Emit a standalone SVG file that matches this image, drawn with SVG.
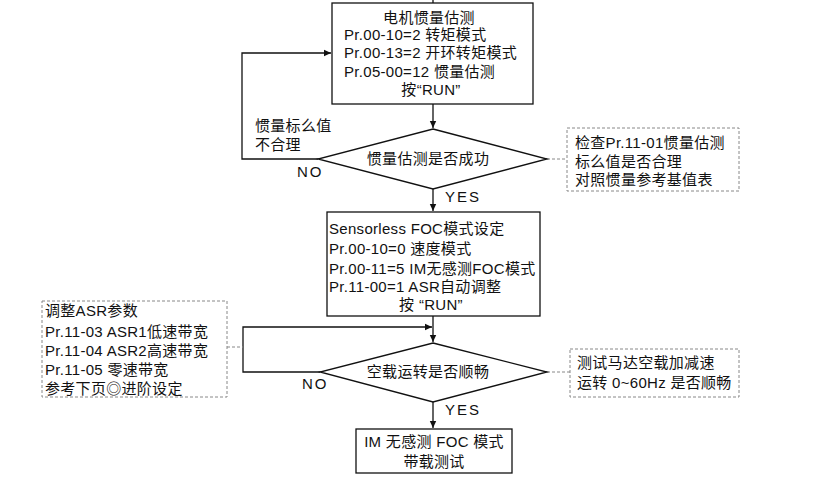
<svg xmlns="http://www.w3.org/2000/svg" width="820" height="488" viewBox="0 0 820 488">
<defs>
<marker id="arr" markerWidth="8" markerHeight="8" refX="7" refY="4" orient="auto" markerUnits="userSpaceOnUse">
<path d="M0,0.8 L7,4 L0,7.2 Z" fill="#111"/>
</marker>
<style>
text{font-family:"Liberation Sans","Noto Sans CJK SC",sans-serif;font-size:15px;fill:#111;letter-spacing:0.3px}
.c{text-anchor:middle}
.box{fill:#fff;stroke:#111;stroke-width:1.3}
.note{fill:#fff;stroke:#888;stroke-width:1;stroke-dasharray:3,2}
.ln{fill:none;stroke:#111;stroke-width:1.3}
.dl{fill:none;stroke:#888;stroke-width:1;stroke-dasharray:3,2}
.lb{letter-spacing:2px}
</style>
</defs>
<rect width="820" height="488" fill="#fff"/>
<g id="connectors">
<line class="ln" x1="433" y1="0" x2="433" y2="3"/>
<line class="ln" x1="433" y1="104" x2="433" y2="128" marker-end="url(#arr)"/>
<polyline class="ln" points="318,159 242,159 242,53 331,53" marker-end="url(#arr)"/>
<line class="ln" x1="433" y1="189" x2="433" y2="211" marker-end="url(#arr)"/>
<line class="dl" x1="547" y1="159" x2="567" y2="159"/>
<line class="ln" x1="433" y1="316" x2="433" y2="342" marker-end="url(#arr)"/>
<polyline class="ln" points="320,372 243,372 243,327 432,327" marker-end="url(#arr)"/>
<line class="dl" x1="227" y1="347" x2="243" y2="347"/>
<line class="dl" x1="547" y1="372" x2="570" y2="372"/>
<line class="ln" x1="433" y1="402" x2="433" y2="428" marker-end="url(#arr)"/>
</g>
<g id="n1">
<rect class="box" x="332" y="3" width="201" height="101"/>
<text class="c" x="429" y="23">电机惯量估测</text>
<text x="344" y="40">Pr.00-10=2 转矩模式</text>
<text x="344" y="58">Pr.00-13=2 开环转矩模式</text>
<text x="344" y="77">Pr.05-00=12 惯量估测</text>
<text class="c" x="431" y="95">按“RUN”</text>
</g>
<g id="d1">
<polygon class="box" points="433,129 547,159 433,189 318,159"/>
<text class="c" x="428" y="164">惯量估测是否成功</text>
</g>
<g id="lbl1">
<text x="255" y="131">惯量标么值</text>
<text x="255" y="150">不合理</text>
<text class="lb" x="297" y="177">NO</text>
<text class="lb" x="445" y="202">YES</text>
</g>
<g id="note1">
<rect class="note" x="567" y="128" width="172" height="63"/>
<text x="575" y="148">检查Pr.11-01惯量估测</text>
<text x="575" y="167">标么值是否合理</text>
<text x="575" y="185">对照惯量参考基值表</text>
</g>
<g id="n2">
<rect class="box" x="327" y="212" width="213" height="104"/>
<text x="329" y="234">Sensorless FOC模式设定</text>
<text x="329" y="254">Pr.00-10=0 速度模式</text>
<text x="329" y="274">Pr.00-11=5 IM无感测FOC模式</text>
<text x="329" y="292">Pr.11-00=1 ASR自动调整</text>
<text class="c" x="431" y="310">按 “RUN”</text>
</g>
<g id="note2">
<rect class="note" x="42" y="301" width="185" height="96"/>
<text x="45" y="316">调整ASR参数</text>
<text x="45" y="337">Pr.11-03 ASR1低速带宽</text>
<text x="45" y="356">Pr.11-04 ASR2高速带宽</text>
<text x="45" y="375">Pr.11-05 零速带宽</text>
<text x="45" y="394">参考下页◎进阶设定</text>
</g>
<g id="d2">
<polygon class="box" points="433,343 547,372 433,402 320,372"/>
<text class="c" x="428" y="377">空载运转是否顺畅</text>
</g>
<g id="lbl2">
<text class="lb" x="302" y="389">NO</text>
<text class="lb" x="445" y="415">YES</text>
</g>
<g id="note3">
<rect class="note" x="570" y="349" width="169" height="48"/>
<text x="577" y="368">测试马达空载加减速</text>
<text x="577" y="388">运转 0~60Hz 是否顺畅</text>
</g>
<g id="n3">
<rect class="box" x="356" y="429" width="156" height="44"/>
<text class="c" x="434" y="447">IM 无感测 FOC 模式</text>
<text class="c" x="434" y="467">带载测试</text>
</g>
</svg>
